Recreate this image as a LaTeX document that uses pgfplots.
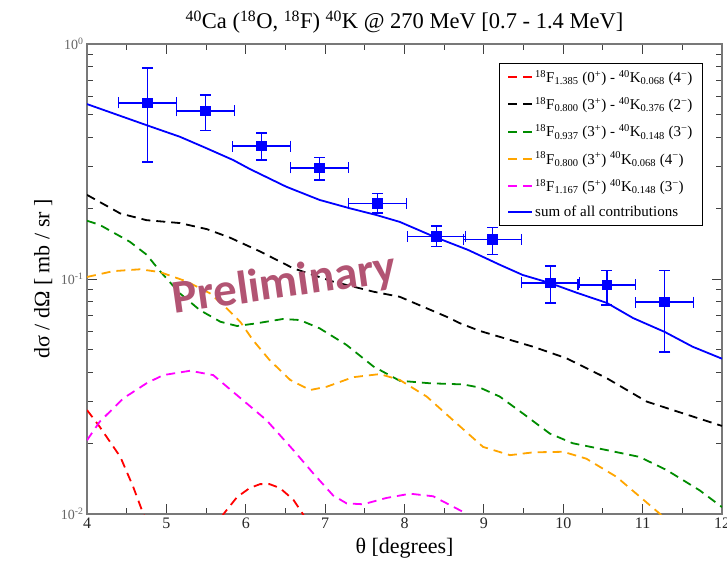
\documentclass[border=0pt]{standalone}
\usepackage{fontspec}
\setmainfont{Liberation Serif}
\newfontfamily\wmfont{Carlito}
\usepackage{pgfplots}
\pgfplotsset{compat=1.18}
\definecolor{wmcol}{RGB}{178,84,115}
\definecolor{ggreen}{RGB}{0,140,0}
\definecolor{gorange}{RGB}{255,165,0}
\definecolor{gmagenta}{RGB}{255,0,255}
\definecolor{gblue}{RGB}{0,0,255}
\definecolor{gred}{RGB}{255,0,0}
\definecolor{axgray}{RGB}{120,120,120}
\begin{document}
\begin{tikzpicture}
\useasboundingbox (-87pt,-47pt) rectangle (640pt,514pt);
\begin{axis}[
  at={(0pt,0pt)}, anchor=south west,
  scale only axis, width=635pt, height=470pt,
  ymode=log, xmin=4, xmax=12, ymin=0.01, ymax=1,
  xtick={4,5,...,12}, minor x tick num=1,
  ytick={0.01,0.1,1},
  yticklabels={10\textsuperscript{-2},10\textsuperscript{-1},10\textsuperscript{0}},
  /pgf/number format/assume math mode=true,
  tick align=inside, major tick length=10pt, minor tick length=6pt,
  axis line style={axgray, line width=1.6pt},
  every tick/.style={black!75, line width=0.9pt},
  xticklabel style={font=\fontsize{16}{16}\selectfont, black!85},
  yticklabel style={font=\fontsize{14}{14}\selectfont, black!60},
  title={\textsuperscript{40}Ca (\textsuperscript{18}O, \textsuperscript{18}F) \textsuperscript{40}K @ 270 MeV [0.7 - 1.4 MeV]},
  title style={font=\fontsize{22.5}{25}\selectfont, at={(axis description cs:0.5,1)}, anchor=south, yshift=1pt},
  xlabel={θ [degrees]},
  xlabel style={font=\fontsize{22}{24}\selectfont, at={(axis description cs:0.5,0)}, anchor=center, yshift=-34pt},
  ylabel={dσ / dΩ [ mb / sr ]},
  ylabel style={font=\fontsize{22}{24}\selectfont, at={(axis description cs:-0.069,0.5)}, anchor=center},
  legend style={at={(axis description cs:0.97,0.96)}, anchor=north east,
    font=\fontsize{15}{16}\selectfont, draw=black, line width=1pt,
    row sep=9.5pt, inner xsep=8pt, inner ysep=5pt, cells={anchor=west}},
  legend cell align=left,
  legend image code/.code={\draw[#1, line width=2pt] (0pt,0pt) -- (24pt,0pt);},
  every axis plot/.append style={line width=1.8pt},
]
\addplot[gred, dash pattern=on 9pt off 6pt] coordinates {
(4.00,0.0277)(4.16,0.0235)(4.42,0.0175)(4.58,0.0131)(4.71,0.0100)(4.80,0.0085)};
\addlegendentry{\textsuperscript{18}F\textsubscript{1.385} (0\textsuperscript{+}) - \textsuperscript{40}K\textsubscript{0.068} (4\textsuperscript{−})}
\addplot[black, dash pattern=on 9pt off 6pt] coordinates {
(4.00,0.228)(4.42,0.190)(4.75,0.178)(5.17,0.173)(5.51,0.163)(5.80,0.150)(6.18,0.131)(6.60,0.111)(7.10,0.0975)(7.61,0.0883)(7.94,0.0840)(8.53,0.0691)(8.70,0.0648)(8.95,0.0601)(9.12,0.0578)(9.62,0.0515)(10.04,0.0460)(10.55,0.0378)(11.05,0.0301)(11.51,0.0268)(12.00,0.0237)};
\addlegendentry{\textsuperscript{18}F\textsubscript{0.800} (3\textsuperscript{+}) - \textsuperscript{40}K\textsubscript{0.376} (2\textsuperscript{−})}
\addplot[ggreen, dash pattern=on 9pt off 6pt] coordinates {
(4.00,0.177)(4.16,0.170)(4.54,0.144)(4.75,0.127)(4.92,0.108)(5.17,0.0869)(5.42,0.0738)(5.68,0.0658)(5.89,0.0631)(6.14,0.0648)(6.47,0.0676)(6.68,0.0669)(6.93,0.0617)(7.27,0.0524)(7.61,0.0424)(7.94,0.0369)(8.32,0.0360)(8.74,0.0356)(8.95,0.0345)(9.20,0.0316)(9.49,0.0268)(9.83,0.0220)(10.12,0.0200)(10.55,0.0187)(10.96,0.0175)(11.30,0.0154)(11.72,0.0126)(12.00,0.0107)};
\addlegendentry{\textsuperscript{18}F\textsubscript{0.937} (3\textsuperscript{+}) - \textsuperscript{40}K\textsubscript{0.148} (3\textsuperscript{−})}
\addplot[gorange, dash pattern=on 9pt off 6pt] coordinates {
(4.00,0.102)(4.33,0.108)(4.67,0.110)(4.92,0.107)(5.26,0.0975)(5.55,0.0869)(5.76,0.0750)(5.93,0.0658)(6.09,0.0550)(6.30,0.0452)(6.56,0.0372)(6.81,0.0337)(7.02,0.0348)(7.35,0.0382)(7.69,0.0394)(7.94,0.0372)(8.28,0.0316)(8.61,0.0251)(8.99,0.0193)(9.33,0.0178)(9.62,0.0183)(10.00,0.0184)(10.29,0.0172)(10.67,0.0144)(11.01,0.0115)(11.22,0.0100)(11.40,0.0085)};
\addlegendentry{\textsuperscript{18}F\textsubscript{0.800} (3\textsuperscript{+}) \textsuperscript{40}K\textsubscript{0.068} (4\textsuperscript{−})}
\addplot[gmagenta, dash pattern=on 9pt off 6pt] coordinates {
(4.00,0.0206)(4.16,0.0247)(4.46,0.0311)(4.75,0.0360)(4.96,0.0390)(5.30,0.0407)(5.59,0.0390)(6.01,0.0296)(6.26,0.0251)(6.60,0.0187)(6.85,0.0149)(7.10,0.0120)(7.27,0.0111)(7.48,0.0110)(7.77,0.0117)(8.07,0.0122)(8.36,0.0119)(8.74,0.0102)(8.90,0.0088)};
\addlegendentry{\textsuperscript{18}F\textsubscript{1.167} (5\textsuperscript{+}) \textsuperscript{40}K\textsubscript{0.148} (3\textsuperscript{−})}
\addplot[gblue] coordinates {
(4.00,0.555)(4.77,0.449)(5.17,0.403)(5.49,0.362)(5.84,0.321)(6.05,0.294)(6.51,0.247)(6.93,0.217)(7.31,0.200)(7.65,0.187)(7.94,0.175)(8.38,0.151)(8.80,0.133)(9.20,0.115)(9.49,0.104)(9.83,0.0962)(10.17,0.0874)(10.55,0.0791)(10.88,0.0682)(11.28,0.0595)(11.63,0.0515)(12.00,0.0458)};
\addlegendentry{sum of all contributions}
\addplot[gred, dash pattern=on 9pt off 6pt, forget plot] coordinates {
(5.62,0.0085)(5.72,0.0100)(5.89,0.0118)(6.05,0.0129)(6.18,0.0134)(6.30,0.0134)(6.43,0.0129)(6.60,0.0115)(6.72,0.0100)(6.80,0.0088)};
\addplot[gblue, only marks, mark=square*, mark size=4.5pt, forget plot,
  error bars/.cd, x dir=both, x explicit, y dir=both, y explicit,
  error bar style={line width=1.2pt, gblue},
  error mark options={line width=1.2pt, mark size=5.5pt, gblue, rotate=90}]
  table[x=x, y=y, x error=ex, y error plus=ep, y error minus=em] {
x y ex ep em
4.76 0.561 0.365 0.229 0.246
5.49 0.519 0.365 0.088 0.092
6.20 0.368 0.365 0.050 0.047
6.93 0.297 0.365 0.033 0.033
7.66 0.209 0.365 0.023 0.018
8.40 0.152 0.365 0.016 0.015
9.11 0.147 0.365 0.018 0.020
9.84 0.0962 0.365 0.0174 0.0172
10.55 0.0943 0.365 0.0147 0.0168
11.28 0.0798 0.365 0.0292 0.0309
};
\node[rotate=8, text=wmcol, font=\wmfont\bfseries\fontsize{47}{47}\selectfont] at (axis cs:6.49,0.0945) {Preliminary};
\end{axis}
\end{tikzpicture}
\end{document}
